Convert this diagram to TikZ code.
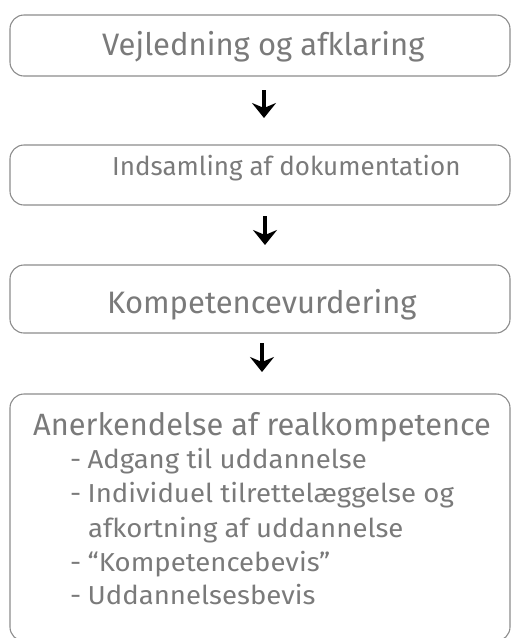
\documentclass[tikz,border=0pt]{standalone}
\usepackage{fontspec}
\setmainfont{Fira Sans}
\usetikzlibrary{arrows.meta}
\definecolor{txtgray}{HTML}{7A7A7A}
\definecolor{boxgray}{HTML}{8C8C8C}
\tikzset{
  stepbox/.style={draw=boxgray, line width=1.1pt, rounded corners=14pt, inner sep=0pt},
  steptext/.style={anchor=base west, inner sep=0pt, text=txtgray, font=\fontsize{31}{31}\selectfont},
  headtext/.style={anchor=base west, inner sep=0pt, text=txtgray, font=\fontsize{30.8}{30.8}\selectfont},
  itemtext/.style={anchor=base west, inner sep=0pt, text=txtgray, font=\fontsize{26}{26}\selectfont},
  flowarrow/.style={line width=3.6pt, -{Stealth[length=15pt,width=24pt,inset=5pt]}},
}
\newcommand{\itemwide}[1]{\scalebox{1.06}[1]{#1}}
\begin{document}
\begin{tikzpicture}[x=1pt,y=-1pt]
\useasboundingbox (0,0) rectangle (511,638);
\begin{scope}
\clip (0,0) rectangle (511,638);
\node[stepbox, minimum width=500pt, minimum height=61pt] (b1) at (260,45.5) {};
\node[stepbox, minimum width=500pt, minimum height=60pt] (b2) at (260,175) {};
\node[stepbox, minimum width=500pt, minimum height=68pt] (b3) at (260,299) {};
\node[stepbox, minimum width=500pt, minimum height=247pt] (b4) at (260,517.5) {};
\end{scope}

\node[steptext] (t1) at (102,55) {Vejledning og afklaring};
\node[steptext, font=\fontsize{26}{26}\selectfont] (t2) at (112,175) {Indsamling af dokumentation};
\node[steptext] (t3) at (107,313) {Kompetencevurdering};

\node[headtext] (h4) at (33,435) {Anerkendelse af realkompetence};
\node[itemtext] (i1) at (70,468) {\itemwide{-\hspace{6pt}Adgang til uddannelse}};
\node[itemtext] (i2) at (70,502) {\itemwide{-\hspace{6pt}Individuel tilrettelæggelse og}};
\node[itemtext] (i3) at (88,537) {\itemwide{afkortning af uddannelse}};
\node[itemtext] (i4) at (70,571) {\itemwide{-\hspace{6pt}“Kompetencebevis”}};
\node[itemtext] (i5) at (70,604) {\itemwide{-\hspace{6pt}Uddannelsesbevis}};

\coordinate (a1s) at (264,90);
\coordinate (a1e) at (264,118);
\coordinate (a2s) at (265,216);
\coordinate (a2e) at (265,245);
\coordinate (a3s) at (262,343);
\coordinate (a3e) at (262,372);
\draw[flowarrow] (a1s) -- (a1e);
\draw[flowarrow] (a2s) -- (a2e);
\draw[flowarrow] (a3s) -- (a3e);
\end{tikzpicture}
\end{document}
